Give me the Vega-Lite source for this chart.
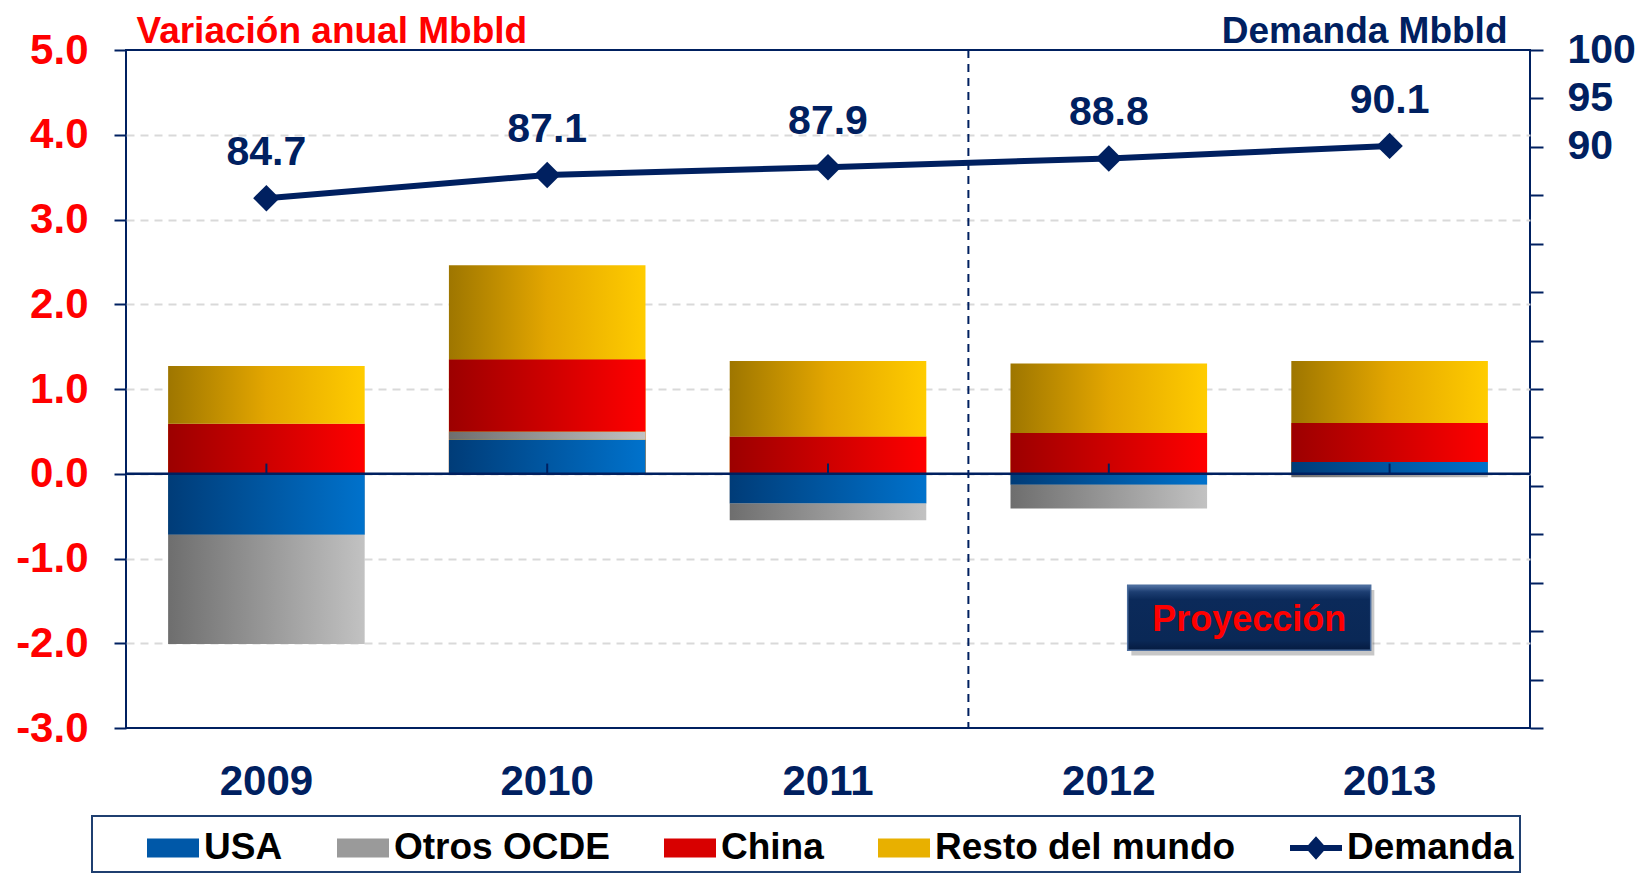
{
  "$schema": "https://vega.github.io/schema/vega-lite/v6.json",
  "width": 1404,
  "height": 678,
  "autosize": {"type": "none"},
  "padding": {"left": 126, "top": 50, "right": 111, "bottom": 145},
  "background": "white",
  "config": {
    "view": {"stroke": "#002060", "strokeWidth": 2},
    "font": "Liberation Sans"
  },
  "datasets": {
    "bars": [
      {"year": "2009", "series": "USA", "ord": 1, "value": -0.72},
      {"year": "2009", "series": "Otros OCDE", "ord": 2, "value": -1.29},
      {"year": "2009", "series": "China", "ord": 3, "value": 0.59},
      {"year": "2009", "series": "Resto del mundo", "ord": 4, "value": 0.68},
      {"year": "2010", "series": "USA", "ord": 1, "value": 0.40},
      {"year": "2010", "series": "Otros OCDE", "ord": 2, "value": 0.10},
      {"year": "2010", "series": "China", "ord": 3, "value": 0.85},
      {"year": "2010", "series": "Resto del mundo", "ord": 4, "value": 1.11},
      {"year": "2011", "series": "USA", "ord": 1, "value": -0.35},
      {"year": "2011", "series": "Otros OCDE", "ord": 2, "value": -0.20},
      {"year": "2011", "series": "China", "ord": 3, "value": 0.44},
      {"year": "2011", "series": "Resto del mundo", "ord": 4, "value": 0.89},
      {"year": "2012", "series": "USA", "ord": 1, "value": -0.13},
      {"year": "2012", "series": "Otros OCDE", "ord": 2, "value": -0.28},
      {"year": "2012", "series": "China", "ord": 3, "value": 0.48},
      {"year": "2012", "series": "Resto del mundo", "ord": 4, "value": 0.82},
      {"year": "2013", "series": "USA", "ord": 1, "value": 0.14},
      {"year": "2013", "series": "Otros OCDE", "ord": 2, "value": -0.04},
      {"year": "2013", "series": "China", "ord": 3, "value": 0.46},
      {"year": "2013", "series": "Resto del mundo", "ord": 4, "value": 0.73}
    ],
    "demanda": [
      {"year": "2009", "demanda": 84.7},
      {"year": "2010", "demanda": 87.1},
      {"year": "2011", "demanda": 87.9},
      {"year": "2012", "demanda": 88.8},
      {"year": "2013", "demanda": 90.1}
    ],
    "note": [{"label": "Proyección"}]
  },
  "layer": [
    {
      "layer": [
        {
          "data": {"name": "bars"},
          "transform": [
            {"stack": "value", "groupby": ["year"], "sort": [{"field": "ord", "order": "ascending"}], "as": ["v0", "v1"], "offset": "zero"}
          ],
          "layer": [
            {
              "mark": {"type": "bar"},
              "encoding": {
                "x": {
                  "field": "year", "type": "nominal",
                  "scale": {"paddingInner": 0.3, "paddingOuter": 0.15},
                  "axis": {
                    "title": null, "labelAngle": 0, "labelFont": "Liberation Sans", "labelFontSize": 42,
                    "labelFontWeight": "bold", "labelColor": "#002060", "labelPadding": 33,
                    "labelBaseline": "top",
                    "ticks": false, "domain": false, "grid": false
                  }
                },
                "y": {
                  "field": "v0", "type": "quantitative",
                  "scale": {"domain": [-3, 5], "nice": false, "zero": false},
                  "axis": {
                    "title": "Variación anual Mbbld", "titleAngle": 0, "titleX": 10, "titleY": -8,
                    "titleAlign": "left", "titleBaseline": "alphabetic", "titleFontSize": 37,
                    "titleFontWeight": "bold", "titleColor": "#FF0000", "titleFont": "Liberation Sans",
                    "values": [-3, -2, -1, 0, 1, 2, 3, 4, 5],
                    "labelExpr": "datum.value < 0 ? '-' + format(-datum.value, '.1f') : format(datum.value, '.1f')",
                    "labelFont": "Liberation Sans", "labelFontSize": 42, "labelFontWeight": "bold",
                    "labelColor": "#FF0000", "labelPadding": 26, "labelOverlap": false,
                    "tickSize": 12, "tickColor": "#002060", "tickWidth": 2,
                    "domain": false, "grid": true,
                    "gridColor": {"condition": {"test": "datum.value === -3 || datum.value === 5", "value": "transparent"}, "value": "#D9D9D9"},
                    "gridDash": [8, 6], "gridWidth": 2
                  }
                },
                "y2": {"datum": 0},
                "color": {
                  "field": "series", "type": "nominal",
                  "scale": {
                    "domain": ["USA", "Otros OCDE", "China", "Resto del mundo", "Demanda"],
                    "range": ["#0058A8", "#9A9A9A", "#D80000", "#E8B000", "#002060"]
                  },
                  "legend": {
                    "orient": "none", "legendX": -34, "legendY": 766, "direction": "horizontal", "columns": 5,
                    "title": "\u00a0", "titleOrient": "left", "titleFontSize": 37, "titlePadding": 49,
                    "symbolType": "M-1,-0.365L1,-0.365L1,0.365L-1,0.365Z", "symbolSize": 2704, "symbolStrokeWidth": 0,
                    "labelFont": "Liberation Sans", "labelFontSize": 37, "labelFontWeight": "bold", "labelColor": "#000000",
                    "labelOffset": 5, "labelLimit": 400, "columnPadding": 54, "padding": 6,
                    "strokeColor": "#1F3F70", "fillColor": "white",
                    "encode": {
                      "legend": {"update": {"strokeWidth": {"value": 2}}},
                      "symbols": {
                        "update": {
                          "shape": {"signal": "datum.value === 'Demanda' ? 'M-1,-0.12L-0.3,-0.12L0,-0.45L0.3,-0.12L1,-0.12L1,0.12L0.3,0.12L0,0.45L-0.3,0.12L-1,0.12Z' : 'M-1,-0.365L1,-0.365L1,0.365L-1,0.365Z'"},
                          "fill": {"signal": "datum.value === 'USA' ? {gradient: 'linear', x1: 0, y1: 0, x2: 1, y2: 0, stops: [{offset: 0, color: '#003C78'}, {offset: 1, color: '#0072CC'}]} : datum.value === 'Otros OCDE' ? {gradient: 'linear', x1: 0, y1: 0, x2: 1, y2: 0, stops: [{offset: 0, color: '#6E6E6E'}, {offset: 1, color: '#C2C2C2'}]} : datum.value === 'China' ? {gradient: 'linear', x1: 0, y1: 0, x2: 1, y2: 0, stops: [{offset: 0, color: '#9C0000'}, {offset: 1, color: '#FF0000'}]} : datum.value === 'Resto del mundo' ? {gradient: 'linear', x1: 0, y1: 0, x2: 1, y2: 0, stops: [{offset: 0, color: '#9E7600'}, {offset: 0.5, color: '#E3A600'}, {offset: 1, color: '#FFCC00'}]} : '#002060'"}
                        }
                      }
                    }
                  }
                }
              }
            },
            {
              "transform": [{"filter": "datum.series === 'USA'"}],
              "mark": {"type": "bar", "fill": {"gradient": "linear", "x1": 0, "y1": 0, "x2": 1, "y2": 0, "stops": [{"offset": 0, "color": "#003C78"}, {"offset": 1, "color": "#0072CC"}]}},
              "encoding": {
                "x": {"field": "year", "type": "nominal"},
                "y": {"field": "v0", "type": "quantitative"},
                "y2": {"field": "v1"}
              }
            },
            {
              "transform": [{"filter": "datum.series === 'Otros OCDE'"}],
              "mark": {"type": "bar", "fill": {"gradient": "linear", "x1": 0, "y1": 0, "x2": 1, "y2": 0, "stops": [{"offset": 0, "color": "#6E6E6E"}, {"offset": 1, "color": "#C2C2C2"}]}},
              "encoding": {
                "x": {"field": "year", "type": "nominal"},
                "y": {"field": "v0", "type": "quantitative"},
                "y2": {"field": "v1"}
              }
            },
            {
              "transform": [{"filter": "datum.series === 'China'"}],
              "mark": {"type": "bar", "fill": {"gradient": "linear", "x1": 0, "y1": 0, "x2": 1, "y2": 0, "stops": [{"offset": 0, "color": "#9C0000"}, {"offset": 1, "color": "#FF0000"}]}},
              "encoding": {
                "x": {"field": "year", "type": "nominal"},
                "y": {"field": "v0", "type": "quantitative"},
                "y2": {"field": "v1"}
              }
            },
            {
              "transform": [{"filter": "datum.series === 'Resto del mundo'"}],
              "mark": {"type": "bar", "fill": {"gradient": "linear", "x1": 0, "y1": 0, "x2": 1, "y2": 0, "stops": [{"offset": 0, "color": "#9E7600"}, {"offset": 0.5, "color": "#E3A600"}, {"offset": 1, "color": "#FFCC00"}]}},
              "encoding": {
                "x": {"field": "year", "type": "nominal"},
                "y": {"field": "v0", "type": "quantitative"},
                "y2": {"field": "v1"}
              }
            }
          ]
        },
        {
          "data": {"name": "note"},
          "mark": {"type": "rule", "color": "#002060", "strokeWidth": 2.5},
          "encoding": {"y": {"datum": 0, "type": "quantitative"}}
        },
        {
          "data": {"name": "demanda"},
          "mark": {"type": "rule", "color": "#002060", "strokeWidth": 2},
          "encoding": {
            "x": {"field": "year", "type": "nominal"},
            "y": {"datum": 0, "type": "quantitative"},
            "y2": {"datum": 0.12}
          }
        },
        {
          "data": {"name": "note"},
          "mark": {"type": "rule", "color": "#002060", "strokeWidth": 2, "strokeDash": [8, 6]},
          "encoding": {"x": {"datum": "2012", "type": "nominal", "bandPosition": -0.2143}}
        },
        {
          "data": {"name": "note"},
          "mark": {"type": "point", "shape": "M-0.97,-0.23L1.03,-0.23L1.03,0.31L-0.97,0.31Z", "size": 59049, "filled": true, "fill": "#000000", "strokeWidth": 0, "opacity": 0.22},
          "encoding": {
            "x": {"datum": "2013", "type": "nominal", "bandPosition": -0.2143},
            "y": {"datum": -1.7, "type": "quantitative"}
          }
        },
        {
          "data": {"name": "note"},
          "mark": {
            "type": "point", "shape": "M-1,-0.2675L1,-0.2675L1,0.2675L-1,0.2675Z", "size": 59049, "filled": true, "opacity": 1,
            "fill": {"gradient": "linear", "x1": 0, "y1": 0, "x2": 0, "y2": 1, "stops": [
              {"offset": 0, "color": "#5273A3"}, {"offset": 0.1, "color": "#1D3E72"}, {"offset": 0.22, "color": "#0B2A5A"},
              {"offset": 0.85, "color": "#0A2856"}, {"offset": 1, "color": "#061B40"}]},
            "stroke": "#4D6E9E", "strokeWidth": 1.5
          },
          "encoding": {
            "x": {"datum": "2013", "type": "nominal", "bandPosition": -0.2143},
            "y": {"datum": -1.7, "type": "quantitative"}
          }
        },
        {
          "data": {"name": "note"},
          "mark": {"type": "text", "font": "Liberation Sans", "fontSize": 36, "fontWeight": "bold", "color": "#FF0000", "align": "center", "baseline": "alphabetic", "dy": 13},
          "encoding": {
            "x": {"datum": "2013", "type": "nominal", "bandPosition": -0.2143},
            "y": {"datum": -1.7, "type": "quantitative"},
            "text": {"field": "label"}
          }
        }
      ]
    },
    {
      "data": {"name": "demanda"},
      "layer": [
        {
          "mark": {"type": "line", "color": "#002060", "strokeWidth": 6},
          "encoding": {
            "x": {"field": "year", "type": "nominal"},
            "y": {
              "field": "demanda", "type": "quantitative",
              "scale": {"domain": [30, 100], "nice": false, "zero": false},
              "axis": {
                "orient": "right",
                "title": "Demanda Mbbld", "titleAngle": 0, "titleX": -23, "titleY": -8,
                "titleAlign": "right", "titleBaseline": "alphabetic", "titleFontSize": 37,
                "titleFontWeight": "bold", "titleColor": "#002060", "titleFont": "Liberation Sans",
                "values": [30, 35, 40, 45, 50, 55, 60, 65, 70, 75, 80, 85, 90, 95, 100],
                "labelExpr": "datum.value >= 90 ? datum.label : ''",
                "labelFont": "Liberation Sans", "labelFontSize": 41, "labelFontWeight": "bold",
                "labelColor": "#002060", "labelPadding": 24, "labelOverlap": false,
                "tickSize": 13, "tickColor": "#002060", "tickWidth": 2,
                "domain": false, "grid": false
              }
            }
          }
        },
        {
          "mark": {"type": "point", "shape": "diamond", "filled": true, "size": 700, "color": "#002060", "opacity": 1},
          "encoding": {
            "x": {"field": "year", "type": "nominal"},
            "y": {"field": "demanda", "type": "quantitative"}
          }
        },
        {
          "mark": {"type": "text", "font": "Liberation Sans", "fontSize": 41, "fontWeight": "bold", "color": "#002060", "align": "center", "baseline": "alphabetic", "dy": -33},
          "encoding": {
            "x": {"field": "year", "type": "nominal"},
            "y": {"field": "demanda", "type": "quantitative"},
            "text": {"field": "demanda", "type": "quantitative", "format": ".1f"}
          }
        }
      ]
    }
  ],
  "resolve": {"scale": {"y": "independent"}}
}
